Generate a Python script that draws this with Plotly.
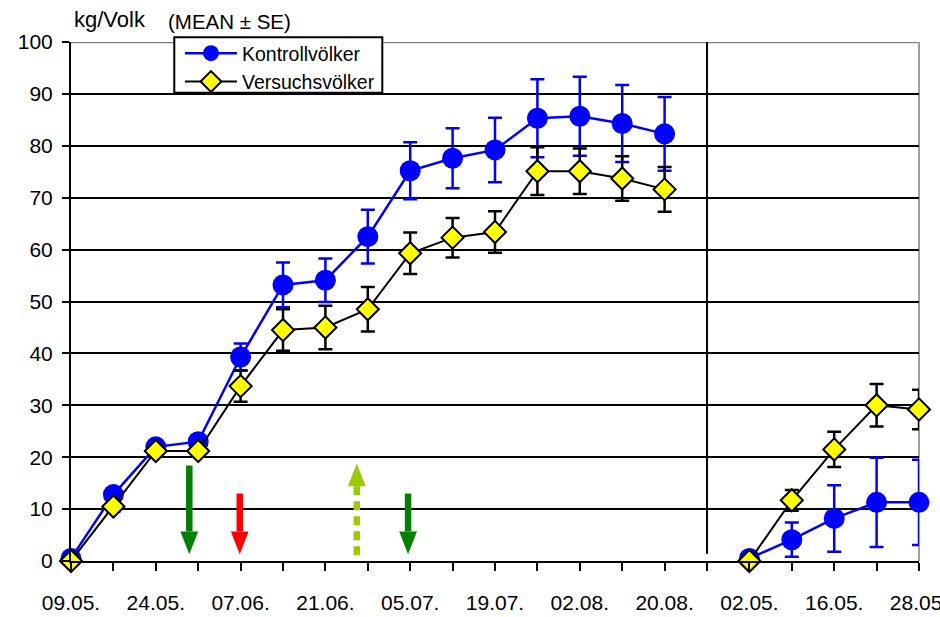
import plotly.graph_objects as go

# ---- data ----
x_idx = list(range(21))
tick_labels = ["09.05.", "", "24.05.", "", "07.06.", "", "21.06.", "", "05.07.", "",
               "19.07.", "", "02.08.", "", "20.08.", "", "02.05.", "", "16.05.", "", "28.05."]

kontroll_mean = [0.5, 12.8, 22.0, 23.0, 39.3, 53.2, 54.1, 62.5, 75.2, 77.6, 79.2, 85.3, 85.7, 84.3, 82.3,
                 None, 0.5, 4.1, 8.2, 11.3, 11.3]
kontroll_se = [0.8, 1.0, 1.0, 1.0, 2.6, 4.3, 4.2, 5.2, 5.5, 5.8, 6.2, 7.5, 7.6, 7.4, 7.1,
               None, 0.5, 3.3, 6.4, 8.6, 8.2]
versuch_mean = [0.0, 10.5, 21.2, 21.2, 33.7, 44.5, 45.0, 48.5, 59.3, 62.3, 63.4, 75.1, 75.1, 73.7, 71.6,
                None, 0.0, 11.7, 21.5, 30.0, 29.2]
versuch_se = [0.5, 1.0, 1.0, 1.0, 3.0, 4.0, 4.2, 4.3, 4.0, 3.8, 4.0, 4.6, 4.4, 4.3, 4.3,
              None, 0.5, 2.0, 3.4, 4.1, 3.8]

# treatment arrows (x position on category index, start value, end value)
arrow_x = [2.79, 3.98, 6.74, 7.95]
arrow_from = [18.4, 13.0, 1.1, 13.0]
arrow_to = [1.3, 1.3, 18.8, 1.3]
arrow_color = ["#008000", "#FF0000", "#99CC00", "#008000"]
arrow_dashed = [False, False, True, False]

divider_x = 15

FONT = "Liberation Sans, Arial, sans-serif"

fig = go.Figure()
fig.add_trace(go.Scatter(
    x=x_idx, y=kontroll_mean, name="Kontrollvölker", mode="lines+markers",
    line=dict(color="#0000FF", width=2.5),
    marker=dict(symbol="circle", size=21, color="#0000FF"),
    error_y=dict(type="data", array=kontroll_se, color="#0000FF", thickness=2.5, width=7),
    cliponaxis=False, connectgaps=False,
))
fig.add_trace(go.Scatter(
    x=x_idx, y=versuch_mean, name="Versuchsvölker", mode="lines+markers",
    line=dict(color="#000000", width=2),
    marker=dict(symbol="diamond", size=17, color="#FFFF00", line=dict(color="#000000", width=2)),
    error_y=dict(type="data", array=versuch_se, color="#000000", thickness=2.5, width=7),
    cliponaxis=False, connectgaps=False,
))

shapes = []
# divider between seasons
shapes.append(dict(type="line", xref="x", yref="y", x0=divider_x, x1=divider_x, y0=1.4, y1=100,
                   line=dict(color="black", width=2), layer="between"))
# top and right border (gray)
shapes.append(dict(type="line", xref="paper", yref="y", x0=0, x1=1, y0=100, y1=100,
                   line=dict(color="#808080", width=2.5), layer="between"))
shapes.append(dict(type="line", xref="paper", yref="y", x0=1, x1=1, y0=0, y1=100,
                   line=dict(color="#A0A0A0", width=2), layer="between"))

head_half = 0.21
head_len = 4.4
for ax, y0, y1, col, dashed in zip(arrow_x, arrow_from, arrow_to, arrow_color, arrow_dashed):
    direction = 1 if y1 > y0 else -1
    base = y1 - direction * head_len
    shapes.append(dict(type="line", xref="x", yref="y", x0=ax, x1=ax, y0=y0, y1=base,
                       line=dict(color=col, width=6.5, dash="9px,6px" if dashed else "solid"),
                       layer="above"))
    shapes.append(dict(type="path", xref="x", yref="y",
                       path=f"M {ax - head_half} {base} L {ax + head_half} {base} L {ax} {y1} Z",
                       fillcolor=col, line=dict(color=col, width=0), layer="above"))

# legend frame
shapes.append(dict(type="rect", xref="paper", yref="paper", x0=0.1218, x1=0.3671, y0=0.9023, y1=1.0091,
                   fillcolor="white", line=dict(color="black", width=2), layer="above"))

fig.update_layout(
    width=940, height=617,
    margin=dict(l=71, r=21, t=42, b=56, autoexpand=False),
    paper_bgcolor="white", plot_bgcolor="white",
    font=dict(family=FONT, color="black", size=21),
    showlegend=True,
    legend=dict(x=0.1285, y=1.0154, xanchor="left", yanchor="top",
                bgcolor="rgba(0,0,0,0)", borderwidth=0,
                font=dict(family=FONT, size=19.5, color="black"),
                itemwidth=52, tracegroupgap=0),
    shapes=shapes,
    annotations=[
        dict(text="kg/Volk", xref="paper", yref="paper", x=0.001, y=1.043, xanchor="left",
             yanchor="middle", showarrow=False, font=dict(family=FONT, size=22)),
        dict(text="(MEAN ± SE)", xref="paper", yref="paper", x=0.112, y=1.04, xanchor="left",
             yanchor="middle", showarrow=False, font=dict(family=FONT, size=20.5)),
    ],
)
fig.update_xaxes(
    range=[0, 20], tickmode="array", tickvals=x_idx, ticktext=tick_labels,
    showgrid=False, zeroline=False, showline=True, linecolor="black", linewidth=2,
    ticks="outside", ticklen=8, tickwidth=2, tickcolor="black",
    tickfont=dict(family=FONT, size=21), tickangle=0, ticklabelstandoff=14,
    automargin=False, ticklabeloverflow="allow",
)
fig.update_yaxes(
    range=[0, 100], tickmode="array", tickvals=list(range(0, 101, 10)),
    showgrid=True, gridcolor="black", gridwidth=2, zeroline=False,
    showline=True, linecolor="black", linewidth=2,
    ticks="outside", ticklen=7, tickwidth=2, tickcolor="black",
    tickfont=dict(family=FONT, size=21), ticklabelstandoff=5,
    automargin=False,
)

fig.write_html("out.html", config={"displayModeBar": False},
               post_script="document.body.style.margin='0px';document.body.style.overflow='hidden';")
